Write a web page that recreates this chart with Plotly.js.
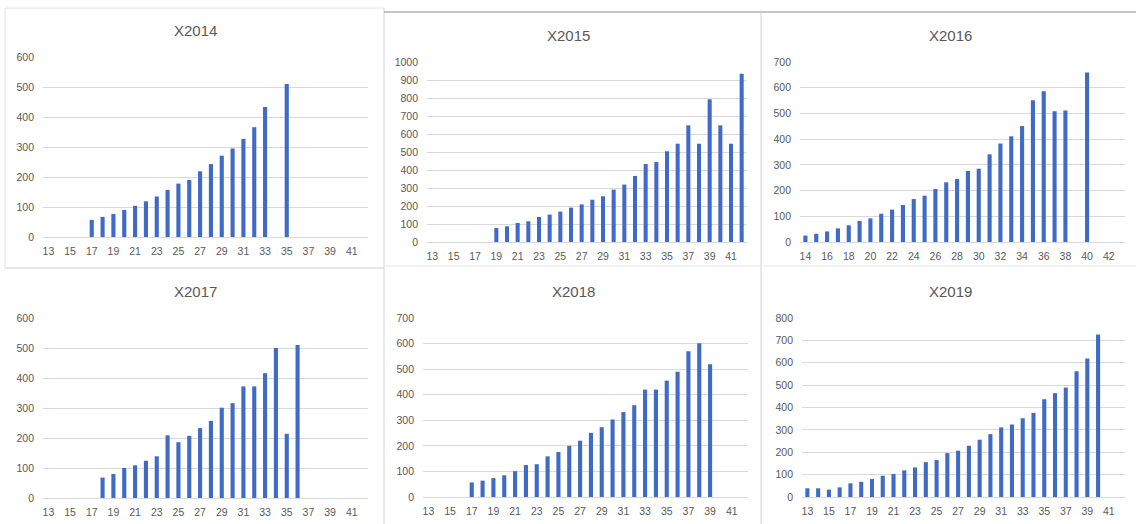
<!DOCTYPE html>
<html>
<head>
<meta charset="utf-8">
<script src="https://cdn.plot.ly/plotly-3.0.1.min.js"></script>
<style>html,body{margin:0;padding:0;background:#fff;}#chart{width:1136px;height:524px;}</style>
</head>
<body>
<div id="chart"></div>
<script>
// ---- data ----
const titles = ["X2014", "X2015", "X2016", "X2017", "X2018", "X2019"];

const x2014_ages = [17,18,19,20,21,22,23,24,25,26,27,28,29,30,31,32,33,35];
const x2014_vals = [57,67,77,90,104,119,135,157,178,190,219,243,271,295,327,366,433,510];

const x2015_ages = [19,20,21,22,23,24,25,26,27,28,29,30,31,32,33,34,35,36,37,38,39,40,41,42];
const x2015_vals = [78,87,106,115,139,152,169,191,209,235,254,291,319,367,433,444,504,546,648,546,793,648,546,935];

const x2016_ages = [14,15,16,17,18,19,20,21,22,23,24,25,26,27,28,29,30,31,32,33,34,35,36,37,38,40];
const x2016_vals = [25,32,41,53,65,82,92,110,126,144,167,180,206,232,245,276,285,341,383,411,451,551,586,508,511,659];

const x2017_ages = [18,19,20,21,22,23,24,25,26,27,28,29,30,31,32,33,34,35,36];
const x2017_vals = [68,80,100,109,124,139,209,186,207,233,257,301,316,372,372,416,500,214,510];

const x2018_ages = [17,18,19,20,21,22,23,24,25,26,27,28,29,30,31,32,33,34,35,36,37,38,39];
const x2018_vals = [57,64,74,85,101,125,128,159,176,200,220,251,273,303,332,359,420,420,455,490,570,601,519];

const x2019_ages = [13,14,15,16,17,18,19,20,21,22,23,24,25,26,27,28,29,30,31,32,33,34,35,36,37,38,39,40];
const x2019_vals = [39,39,33,43,61,68,80,95,103,119,132,156,165,196,207,229,256,281,311,324,352,376,437,464,489,562,619,726];

const xTicks_odd = [13,15,17,19,21,23,25,27,29,31,33,35,37,39,41];
const xTicks_even = [14,16,18,20,22,24,26,28,30,32,34,36,38,40,42];

// ---- layout geometry ----
const W = 1136, H = 524;
const px = v => v / W;
const py = v => 1 - v / H;

const panels = [
  {ages: x2014_ages, vals: x2014_vals, xr: [12.5, 42.5], ticks: xTicks_odd, ymax: 600, dt: 100, xd: [43, 368], yd: [237, 57], tx: 195, ty: 30},
  {ages: x2015_ages, vals: x2015_vals, xr: [12.5, 42.5], ticks: xTicks_odd, ymax: 1000, dt: 100, xd: [427, 747], yd: [242, 62], tx: 568, ty: 35},
  {ages: x2016_ages, vals: x2016_vals, xr: [13.5, 43.5], ticks: xTicks_even, ymax: 700, dt: 100, xd: [800, 1125], yd: [242, 62], tx: 950, ty: 35},
  {ages: x2017_ages, vals: x2017_vals, xr: [12.5, 42.5], ticks: xTicks_odd, ymax: 600, dt: 100, xd: [43, 368], yd: [498, 318], tx: 195, ty: 291},
  {ages: x2018_ages, vals: x2018_vals, xr: [12.5, 42.5], ticks: xTicks_odd, ymax: 700, dt: 100, xd: [423, 748], yd: [497, 318], tx: 573, ty: 291},
  {ages: x2019_ages, vals: x2019_vals, xr: [12.5, 42.5], ticks: xTicks_odd, ymax: 800, dt: 100, xd: [802, 1125], yd: [497, 318], tx: 950, ty: 291}
];

const barColor = "#3f6bc6";
const gridColor = "#d9d9d9";
const textColor = "#595959";
const fontFam = "'Liberation Sans', Arial, sans-serif";

const traces = [];
const layout = {
  width: W, height: H,
  margin: {l: 0, r: 0, t: 0, b: 0},
  paper_bgcolor: "#fff",
  plot_bgcolor: "rgba(0,0,0,0)",
  showlegend: false,
  bargap: 0.62,
  font: {family: fontFam, color: textColor, size: 10},
  annotations: [],
  shapes: []
};

panels.forEach((p, i) => {
  const n = i + 1;
  const xa = n === 1 ? "x" : "x" + n;
  const ya = n === 1 ? "y" : "y" + n;
  traces.push({
    type: "bar", x: p.ages, y: p.vals, xaxis: xa, yaxis: ya,
    marker: {color: barColor}, hoverinfo: "x+y"
  });
  layout[n === 1 ? "xaxis" : "xaxis" + n] = {
    domain: [px(p.xd[0]), px(p.xd[1])],
    anchor: ya, range: p.xr, tickmode: "array", tickvals: p.ticks,
    ticktext: p.ticks.map(String),
    showgrid: false, zeroline: false, showline: true, linecolor: gridColor, linewidth: 1,
    ticks: "", tickfont: {size: 10.5, color: textColor, family: fontFam},
    ticklabelstandoff: 4, fixedrange: true
  };
  layout[n === 1 ? "yaxis" : "yaxis" + n] = {
    domain: [py(p.yd[0]), py(p.yd[1])],
    anchor: xa, range: [0, p.ymax], dtick: p.dt, tick0: 0,
    showgrid: true, gridcolor: gridColor, gridwidth: 1, zeroline: false,
    showline: false, ticks: "", tickfont: {size: 10.5, color: textColor, family: fontFam},
    ticklabelstandoff: 8, fixedrange: true
  };
  layout.annotations.push({
    text: titles[i], xref: "paper", yref: "paper", x: px(p.tx), y: py(p.ty),
    xanchor: "center", yanchor: "middle", showarrow: false,
    font: {size: 15, color: textColor, family: fontFam}
  });
});

// panel frames / separators
const line = (x0, y0, x1, y1, c, w) => ({type: "line", xref: "paper", yref: "paper",
  x0: px(x0), y0: py(y0), x1: px(x1), y1: py(y1), line: {color: c, width: w}});
layout.shapes.push(
  line(5, 8, 384, 8, "#e2e2e2", 1),
  line(5, 8, 5, 268, "#e2e2e2", 1),
  line(384, 8, 384, 524, "#d4d4d4", 1),
  line(384, 12, 1136, 12, "#8c8c8c", 1.2),
  line(761, 12, 761, 524, "#d4d4d4", 1),
  line(5, 268, 384, 268, "#d0d0d0", 1),
  line(384, 266, 761, 266, "#e6e6e6", 1),
  line(761, 266, 1136, 266, "#e6e6e6", 1)
);

Plotly.newPlot("chart", traces, layout, {displayModeBar: false, staticPlot: true});
</script>
</body>
</html>
